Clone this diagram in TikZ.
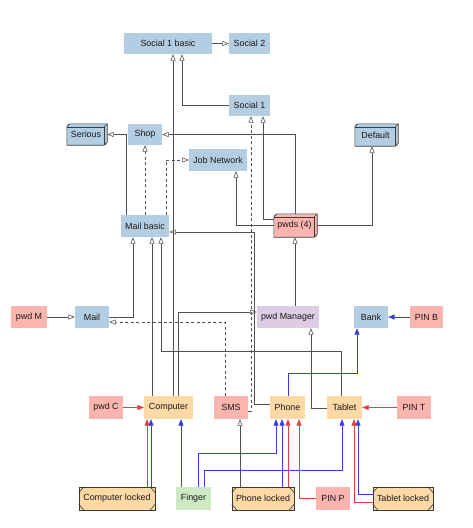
\documentclass[tikz,border=0pt]{standalone}
\usepackage{fontspec}
\setmainfont{Liberation Sans}
\usetikzlibrary{arrows.meta}
\definecolor{pblue}{HTML}{B3CDE3}
\definecolor{pred}{HTML}{FBB4AE}
\definecolor{porange}{HTML}{FED9A6}
\definecolor{ppurple}{HTML}{DECBE4}
\definecolor{pgreen}{HTML}{CCEBC5}
\definecolor{lnblue}{HTML}{3838F0}
\definecolor{lnred}{HTML}{E23C3C}
\definecolor{lngray}{HTML}{505050}
\definecolor{bordergray}{HTML}{3A3A3A}
\tikzset{
  x=1pt, y=-1pt,
  base/.style={rectangle, inner sep=0pt, minimum height=22pt, text=black!90,
    font=\fontsize{8.9}{10}\selectfont},
  bluebox/.style={base, fill=pblue},
  redbox/.style={base, fill=pred},
  orangebox/.style={base, fill=porange},
  purplebox/.style={base, fill=ppurple},
  greenbox/.style={base, fill=pgreen},
  boxline/.style={draw=bordergray, line width=0.6pt},
  ed/.style={draw=lngray, line width=0.6pt, -{Triangle[open, length=6.5pt, width=5pt]}},
  edd/.style={ed, dashed, dash pattern=on 3pt off 2.5pt},
  bl/.style={draw=lnblue, line width=0.6pt, -{Triangle[length=6.5pt, width=5pt]}},
  rd/.style={draw=lnred, line width=0.6pt, -{Triangle[length=6.5pt, width=5pt]}},
}
\newcommand\drawcubebox[1]{%
  \draw[boxline] ([yshift=-3pt]#1.north west) -- ([xshift=3pt]#1.north west) -- (#1.north east)
    -- ([yshift=3pt]#1.south east) -- ([xshift=-3pt]#1.south east) -- (#1.south west) -- cycle;
  \draw[boxline] ([yshift=-3pt]#1.north west) -- ([xshift=-3pt,yshift=-3pt]#1.north east)
    -- ([xshift=-3pt]#1.south east);
  \draw[boxline] ([xshift=-3pt,yshift=-3pt]#1.north east) -- (#1.north east);}
\newcommand\drawlockedbox[1]{%
  \draw[boxline] (#1.north west) rectangle (#1.south east);
  \draw[boxline] ([yshift=-6pt]#1.north west) -- ([xshift=5pt]#1.north west);
  \draw[boxline] ([yshift=6pt]#1.south west) -- ([xshift=5pt]#1.south west);
  \draw[boxline] ([yshift=-6pt]#1.north east) -- ([xshift=-5pt]#1.north east);
  \draw[boxline] ([yshift=6pt]#1.south east) -- ([xshift=-5pt]#1.south east);}
\begin{document}
\begin{tikzpicture}
\useasboundingbox (0,0) rectangle (473,528);
% nodes
\node[bluebox, minimum width=88pt, minimum height=21pt] (sb) at (168,43.5) {Social 1 basic};
\node[bluebox, minimum width=41pt, minimum height=21pt] (s2) at (249.5,43.5) {Social 2};
\node[bluebox, minimum width=41pt, minimum height=21pt] (s1) at (249.5,105.5) {Social 1};
\node[bluebox, minimum width=40pt, minimum height=21pt] (ser) at (87,134.5) {\hspace*{-2pt}\raisebox{-1pt}{Serious}};
\drawcubebox{ser}
\node[bluebox, minimum width=34pt, minimum height=21pt] (shop) at (145,134.5) {Shop};
\node[bluebox, minimum width=43pt, minimum height=22pt] (def) at (376.5,135) {\hspace*{-2pt}\raisebox{-1pt}{Default}};
\drawcubebox{def}
\node[bluebox, minimum width=58pt] (jn) at (218,160) {Job Network};
\node[redbox, minimum width=43pt, minimum height=23pt] (pw) at (295.5,225.5) {\hspace*{-2pt}\raisebox{-1pt}{pwds (4)}};
\drawcubebox{pw}
\node[bluebox, minimum width=48pt] (mb) at (145,226) {Mail basic};
\node[redbox, minimum width=36pt] (pwm) at (29,317) {pwd M};
\node[bluebox, minimum width=34pt] (mail) at (92,317) {Mail};
\node[purplebox, minimum width=62pt] (pm) at (288,317) {pwd Manager};
\node[bluebox, minimum width=34pt] (bank) at (371,317) {Bank};
\node[redbox, minimum width=33pt] (pinb) at (426.5,317) {PIN B};
\node[redbox, minimum width=34pt, minimum height=23pt] (pc) at (106,407.5) {pwd C};
\node[orangebox, minimum width=49pt, minimum height=23pt] (comp) at (168.5,407.5) {Computer};
\node[redbox, minimum width=34pt, minimum height=23pt] (sms) at (231,407.5) {SMS};
\node[orangebox, minimum width=35pt, minimum height=23pt] (ph) at (287.5,407.5) {Phone};
\node[orangebox, minimum width=35pt, minimum height=23pt] (tab) at (344.5,407.5) {Tablet};
\node[redbox, minimum width=34pt, minimum height=23pt] (pint) at (414,407.5) {PIN T};
\node[orangebox, minimum width=76pt, minimum height=23pt] (cl) at (117,498.5) {Computer locked};
\drawlockedbox{cl}
\node[greenbox, minimum width=35pt, minimum height=23pt] (fi) at (193.5,498.5) {Finger};
\node[orangebox, minimum width=62pt, minimum height=23pt] (phl) at (263,498.5) {Phone locked};
\drawlockedbox{phl}
\node[redbox, minimum width=34pt, minimum height=23pt] (pinp) at (333,498.5) {PIN P};
\node[orangebox, minimum width=60pt, minimum height=23pt] (tl) at (403,498.5) {Tablet locked};
\drawlockedbox{tl}
% lanes
\foreach \v in {126,133,147,151,152,161,166,173,178,181,182,198,204,225,236,240,251,254,263,276,282,288,295,299,311,341,342,354,357,358,372}
  {\coordinate (a\v) at (\v,0);}
\foreach \v in {219,232,312,322,351,373,404,408,411,453,470,494,502}
  {\coordinate (b\v) at (0,\v);}
% gray edges
\draw[ed] (sb.east) -- (s2.west);
\draw[ed] (s1.west) -| (a182 |- sb.south);
\draw[ed] (comp.north -| a173) -- (a173 |- sb.south);
\draw[ed] (comp.north -| a178) |- (pm.west |- b312);
\draw[ed] (mail.east) -| (a133 |- mb.south);
\draw[ed] (comp.north -| a152) -- (a152 |- mb.south);
\draw[ed] (tab.north -| a341) |- (a161 |- b351) -- (a161 |- mb.south);
\draw[ed] (ph.west |- b404) -| (a254 |- b232) -- (mb.east |- b232);
\draw[ed] (mb.north -| a126) |- (ser.east);
\draw[edd] (mb.north) -- (shop.south);
\draw[edd] (mb.north -| a166) |- (jn.west);
\draw[ed] (pw.north) |- (shop.east);
\draw[ed] (pw.west |- b219) -| (a263 |- s1.south);
\draw[ed] (pw.west) -| (a236 |- jn.south);
\draw[ed] (pw.east) -| (a372 |- def.south);
\draw[ed] (pm.north -| a295) -- (a295 |- pw.south);
\draw[ed] (tab.west |- b408) -| (a311 |- pm.south);
\draw[ed] (pwm.east) -- (mail.west);
\draw[edd] (sms.north -| a225) |- (mail.east |- b322);
\draw[edd] (sms.east |- b411) -| (a251 |- s1.south);
\draw[ed] (phl.north -| a240) -- (a240 |- sms.south);
% blue edges
\draw[bl] (pinb.west) -- (bank.east);
\draw[bl] (ph.north -| a288) |- (a357 |- b373) -- (a357 |- bank.south);
\draw[bl] (cl.north -| a151) -- (a151 |- comp.south);
\draw[bl] (fi.north -| a181) -- (a181 |- comp.south);
\draw[bl] (fi.north -| a198) |- (a276 |- b453) -- (a276 |- ph.south);
\draw[bl] (fi.north -| a204) |- (a342 |- b470) -- (a342 |- tab.south);
\draw[bl] (phl.north -| a282) -- (a282 |- ph.south);
\draw[bl] (tl.west |- b494) -| (a358 |- tab.south);
% red edges
\draw[rd] (pc.east) -- (comp.west);
\draw[rd] (pint.west) -- (tab.east);
\draw[rd] (cl.north -| a147) -- (a147 |- comp.south);
\draw[rd] (phl.north -| a288) -- (a288 |- ph.south);
\draw[rd] (pinp.west) -| (a299 |- ph.south);
\draw[rd] (tl.west |- b502) -| (a354 |- tab.south);
\end{tikzpicture}
\end{document}
